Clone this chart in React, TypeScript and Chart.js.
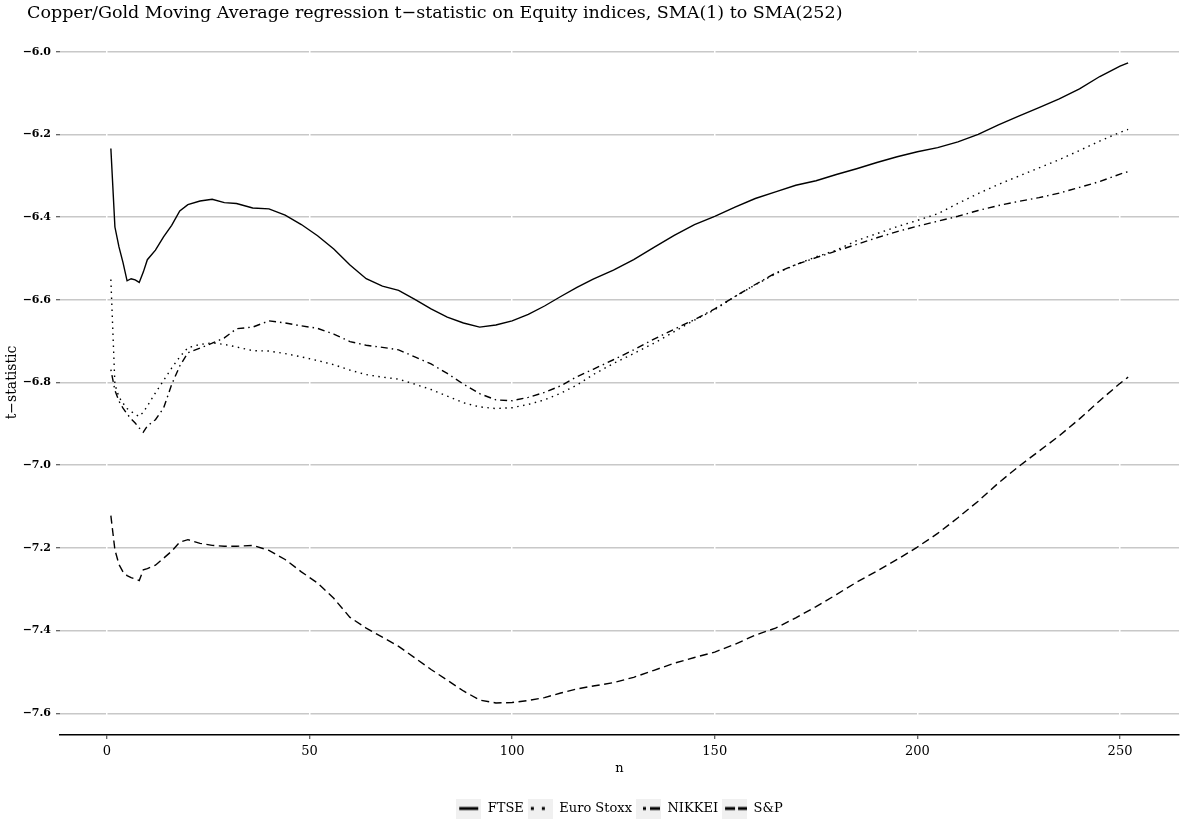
import React, { useEffect, useRef } from 'react';
import { Chart, registerables } from 'chart.js';

Chart.register(...registerables);

const FONT = "'DejaVu Serif', serif";

const TITLE = 'Copper/Gold Moving Average regression t\u2212statistic on Equity indices, SMA(1) to SMA(252)';
const X_LABEL = 'n';
const Y_LABEL = 't\u2212statistic';
const SERIES_NAMES = ['FTSE', 'Euro Stoxx', 'NIKKEI', 'S&P'];

const N = [1, 2, 3, 4, 5, 6, 7, 8, 9, 10, 12, 14, 16, 18, 20, 23, 26, 29, 32, 36, 40, 44, 48, 52, 56, 60, 64, 68, 72, 76, 80, 84, 88, 92, 96, 100, 104, 108, 112, 116, 120, 125, 130, 135, 140, 145, 150, 155, 160, 165, 170, 175, 180, 185, 190, 195, 200, 205, 210, 215, 220, 225, 230, 235, 240, 245, 250, 252];

const FTSE = [-6.234, -6.424, -6.472, -6.51, -6.554, -6.549, -6.552, -6.558, -6.533, -6.503, -6.48, -6.448, -6.42, -6.385, -6.37, -6.361, -6.357, -6.365, -6.367, -6.378, -6.38, -6.395, -6.418, -6.445, -6.477, -6.516, -6.549, -6.567, -6.577, -6.599, -6.622, -6.642, -6.656, -6.666, -6.661, -6.651, -6.635, -6.615, -6.592, -6.57, -6.55, -6.528, -6.503, -6.473, -6.444, -6.418, -6.398, -6.376, -6.355, -6.339, -6.323, -6.312, -6.297, -6.283, -6.268, -6.254, -6.242, -6.232, -6.218, -6.2, -6.177, -6.156, -6.135, -6.114, -6.09, -6.06, -6.035, -6.027];

const EURO_STOXX = [-6.551, -6.805, -6.835, -6.85, -6.863, -6.87, -6.877, -6.882, -6.872, -6.857, -6.825, -6.795, -6.765, -6.738, -6.716, -6.708, -6.704, -6.708, -6.714, -6.723, -6.724, -6.73, -6.738, -6.747, -6.757, -6.77, -6.781, -6.787, -6.792, -6.804, -6.817, -6.833, -6.849, -6.859, -6.863, -6.861, -6.853, -6.842, -6.826, -6.806, -6.781, -6.754, -6.73, -6.705, -6.677, -6.649, -6.624, -6.592, -6.564, -6.537, -6.515, -6.496, -6.48, -6.457, -6.44, -6.423, -6.408, -6.392, -6.367, -6.343, -6.321, -6.301, -6.281, -6.261, -6.239, -6.216, -6.195, -6.188];

const NIKKEI = [-6.769, -6.819, -6.845, -6.862, -6.876, -6.888, -6.898, -6.91, -6.92, -6.905, -6.89, -6.862, -6.805, -6.76, -6.728, -6.717, -6.705, -6.692, -6.67, -6.666, -6.651, -6.656, -6.663, -6.669, -6.683, -6.701, -6.71, -6.715, -6.721, -6.738, -6.755, -6.778, -6.804, -6.827, -6.842, -6.844, -6.836, -6.824, -6.808, -6.786, -6.768, -6.745, -6.721, -6.695, -6.671, -6.648, -6.622, -6.592, -6.563, -6.535, -6.515, -6.498, -6.482, -6.466, -6.45, -6.435, -6.422, -6.41, -6.398, -6.384, -6.372, -6.362, -6.353, -6.342, -6.328, -6.314, -6.296, -6.29];

const SP = [-7.122, -7.205, -7.24, -7.258, -7.267, -7.272, -7.275, -7.279, -7.253, -7.25, -7.242, -7.225, -7.208, -7.186, -7.18, -7.189, -7.194, -7.196, -7.196, -7.194, -7.206, -7.228, -7.258, -7.285, -7.322, -7.368, -7.394, -7.416, -7.438, -7.466, -7.494, -7.52, -7.546, -7.568, -7.575, -7.574, -7.569, -7.562, -7.551, -7.541, -7.534, -7.526, -7.513, -7.496, -7.479, -7.465, -7.452, -7.433, -7.411, -7.394, -7.369, -7.342, -7.313, -7.283, -7.256, -7.228, -7.198, -7.165, -7.127, -7.087, -7.043, -7.003, -6.966, -6.929, -6.888, -6.844, -6.802, -6.787];

const X_TICKS = [0, 50, 100, 150, 200, 250];
const Y_TICKS = [-7.6, -7.4, -7.2, -7.0, -6.8, -6.6, -6.4, -6.2, -6.0];
const X_MIN = -11.55;
const X_MAX = 264.55;
const Y_MIN = -7.6525;
const Y_MAX = -5.9475;

const SERIES_VALUES = [FTSE, EURO_STOXX, NIKKEI, SP];
const SERIES_DASH = [[], [1.5, 4.5], [1.5, 4, 7, 4], [8, 4.5]];
const KEY_STYLE = [
  { dash: [], from: 3, to: 22 },
  { dash: [3, 8], from: 3, to: 22 },
  { dash: [3, 4, 10, 10], from: 7, to: 24 },
  { dash: [10, 3], from: 3, to: 25 },
];

function makeKey(style: { dash: number[]; from: number; to: number }) {
  const c = document.createElement('canvas');
  c.width = 25;
  c.height = 20;
  const g = c.getContext('2d')!;
  g.fillStyle = '#f0f0f0';
  g.fillRect(0, 0, 25, 20);
  g.strokeStyle = '#000';
  g.lineWidth = 3;
  g.lineCap = 'butt';
  g.setLineDash(style.dash);
  g.beginPath();
  g.moveTo(style.from, 10);
  g.lineTo(style.to, 10);
  g.stroke();
  return c;
}

const titlePlugin = {
  id: 'leftTitle',
  afterDraw(chart: any) {
    const ctx = chart.ctx;
    ctx.save();
    ctx.font = `17.5px ${FONT}`;
    ctx.fillStyle = '#000';
    ctx.textAlign = 'left';
    ctx.textBaseline = 'alphabetic';
    ctx.fillText(TITLE, 27, 18);
    ctx.restore();
  },
};

export default function App() {
  const ref = useRef<HTMLCanvasElement>(null);

  useEffect(() => {
    document.body.style.margin = '0';
    const keys = KEY_STYLE.map(makeKey);
    const datasets = SERIES_NAMES.map((name, i) => ({
      label: name,
      data: N.map((n, j) => ({ x: n, y: SERIES_VALUES[i][j] })),
      borderColor: '#000',
      backgroundColor: '#000',
      borderWidth: 1.4,
      borderDash: SERIES_DASH[i],
      pointRadius: 0,
      tension: 0,
      fill: false,
    }));

    const chart = new Chart(ref.current!, {
      type: 'line',
      data: { datasets },
      plugins: [titlePlugin],
      options: {
        responsive: false,
        animation: false,
        layout: { padding: { top: 30, left: 0, right: 3, bottom: 0 } },
        plugins: {
          title: { display: false },
          tooltip: { enabled: false },
          legend: {
            display: true,
            position: 'bottom',
            fullSize: false,
            maxHeight: 25,
            labels: {
              usePointStyle: true,
              pointStyleWidth: 25,
              padding: 4,
              color: '#000',
              font: { family: FONT, size: 13 },
              generateLabels: () =>
                SERIES_NAMES.map((name, i) => ({
                  text: name,
                  pointStyle: keys[i],
                  fillStyle: '#000',
                  strokeStyle: '#000',
                  lineWidth: 0,
                  hidden: false,
                  datasetIndex: i,
                  fontColor: '#000',
                })),
            },
          },
        },
        scales: {
          x: {
            type: 'linear',
            min: X_MIN,
            max: X_MAX,
            afterBuildTicks: (s: any) => {
              s.ticks = X_TICKS.map((v) => ({ value: v }));
            },
            afterFit: (s: any) => {
              s.height = 63;
            },
            ticks: {
              color: '#000',
              font: { family: FONT, size: 13 },
              padding: 5,
              autoSkip: false,
              maxRotation: 0,
              callback: (v: any) => String(v),
            },
            grid: { color: '#ffffff', lineWidth: 1.5, z: -1, tickColor: '#333', tickLength: 4, tickWidth: 1 },
            border: { display: true, color: '#000', width: 1.5 },
            title: {
              display: true,
              text: X_LABEL,
              color: '#000',
              font: { family: FONT, size: 13 },
              padding: { top: 0, bottom: 22 },
            },
          },
          y: {
            type: 'linear',
            min: Y_MIN,
            max: Y_MAX,
            afterBuildTicks: (s: any) => {
              s.ticks = Y_TICKS.map((v) => ({ value: v }));
            },
            afterFit: (s: any) => {
              s.width = 60;
            },
            ticks: {
              color: '#000',
              font: { family: FONT, size: 11, weight: 'bold' },
              padding: 5,
              callback: (v: any) => (v < 0 ? '\u2212' : '') + Math.abs(Number(v)).toFixed(1),
            },
            grid: { color: '#c8c8c8', lineWidth: 1.5, z: -2, tickColor: '#333', tickLength: 4, tickWidth: 1 },
            border: { display: false },
            title: {
              display: true,
              text: Y_LABEL,
              color: '#000',
              font: { family: FONT, size: 14 },
              padding: { top: 4, bottom: 0 },
            },
          },
        },
      } as any,
    });
    return () => chart.destroy();
  }, []);

  return (
    <div style={{ width: 1182, height: 823, background: '#fff' }}>
      <canvas ref={ref} width={1182} height={823} style={{ display: 'block' }} />
    </div>
  );
}
